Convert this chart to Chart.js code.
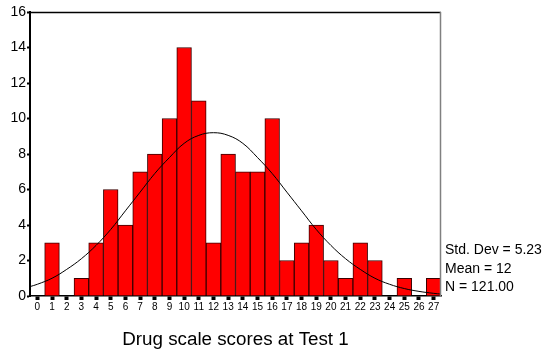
<!DOCTYPE html>
<html>
<head>
<meta charset="utf-8">
<script src="https://cdn.jsdelivr.net/npm/chart.js@4/dist/chart.umd.min.js"></script>
<style>
  html, body { margin: 0; padding: 0; background: #fff; }
  #wrap { position: relative; width: 544px; height: 353px; }
</style>
</head>
<body>
<div id="wrap"><canvas id="hist"></canvas></div>
<script>
// scores 0..27 and how many got each
const scores = [0,1,2,3,4,5,6,7,8,9,10,11,12,13,14,15,16,17,18,19,20,21,22,23,24,25,26,27];
const counts = [0,3,0,1,3,6,4,7,8,10,14,11,3,8,7,7,10,2,3,4,2,1,3,2,0,1,0,1];

// fitted normal curve
const curveX = [-0.5,0,1,2,3,4,5,6,7,8,9,10,11,12,13,14,15,16,17,18,19,20,21,22,23,24,25,26,27,27.5];
const curveY = [0.53,0.66,1.0,1.5,2.1,2.85,3.75,4.8,5.85,6.9,7.8,8.6,9.05,9.2,9.05,8.6,7.8,6.9,5.85,4.8,3.75,2.85,2.1,1.5,1.0,0.66,0.42,0.26,0.15,0.11];

const yTicks = [0,2,4,6,8,10,12,14,16];
const stats = ['Std. Dev = 5.23', 'Mean = 12', 'N = 121.00'];
const xTitle = 'Drug scale scores at Test 1';

const FONT = '"Liberation Sans", Arial, sans-serif';
const NARROW = '"Liberation Sans Narrow", "Liberation Sans", Arial, sans-serif';

// top + right frame lines and the stats block
const framePlugin = {
  id: 'frame',
  afterDraw(chart) {
    const { ctx, chartArea: a } = chart;
    ctx.save();
    ctx.strokeStyle = '#000';
    ctx.lineWidth = 1.5;
    ctx.beginPath();
    ctx.moveTo(a.left, a.top + 0.5);
    ctx.lineTo(a.right, a.top + 0.5);
    ctx.stroke();
    ctx.strokeStyle = '#808080';
    ctx.lineWidth = 1.5;
    ctx.beginPath();
    ctx.moveTo(a.right - 0.5, a.top);
    ctx.lineTo(a.right - 0.5, a.bottom);
    ctx.stroke();

    ctx.fillStyle = '#000';
    ctx.font = '14px ' + FONT;
    ctx.textBaseline = 'middle';
    ctx.textAlign = 'left';
    stats.forEach((s, i) => ctx.fillText(s, a.right + 4, 250.5 + i * 18.5));
    ctx.restore();
  }
};

new Chart(document.getElementById('hist'), {
  type: 'bar',
  data: {
    labels: scores,
    datasets: [
      {
        type: 'bar',
        data: counts,
        backgroundColor: '#ff0000',
        borderColor: '#3a0000',
        borderWidth: 1,
        barPercentage: 1,
        categoryPercentage: 1,
        grouped: false,
        xAxisID: 'x',
        order: 1
      },
      {
        type: 'line',
        data: curveX.map((x, i) => ({ x, y: curveY[i] })),
        borderColor: '#000',
        borderWidth: 1,
        pointRadius: 0,
        tension: 0.4,
        fill: false,
        xAxisID: 'x2',
        order: 0
      }
    ]
  },
  options: {
    responsive: true,
    maintainAspectRatio: false,
    animation: false,
    layout: { padding: { top: 12, right: 103, bottom: 0, left: 0 } },
    plugins: {
      legend: { display: false },
      tooltip: { enabled: false }
    },
    scales: {
      x: {
        type: 'category',
        offset: true,
        afterFit(s) { s.height = 57; },
        grid: {
          offset: false,
          drawOnChartArea: false,
          tickLength: 4,
          tickWidth: 4,
          tickColor: '#000'
        },
        border: { display: true, color: '#000', width: 1.5 },
        ticks: {
          color: '#000',
          font: { family: NARROW, size: 10 },
          padding: 1,
          maxRotation: 0,
          autoSkip: false
        },
        title: {
          display: true,
          text: xTitle,
          color: '#000',
          font: { family: FONT, size: 18.8 },
          padding: { top: 0, bottom: 2 }
        }
      },
      x2: {
        type: 'linear',
        display: false,
        offset: false,
        min: -0.5,
        max: 27.5
      },
      y: {
        min: 0,
        max: 16,
        afterFit(s) { s.width = 30; },
        afterBuildTicks(s) { s.ticks = yTicks.map(v => ({ value: v })); },
        grid: {
          drawOnChartArea: false,
          tickLength: 3,
          tickWidth: 2,
          tickColor: '#000'
        },
        border: { display: true, color: '#000', width: 2 },
        ticks: {
          color: '#000',
          font: { family: FONT, size: 14 },
          padding: 1
        }
      }
    }
  },
  plugins: [framePlugin]
});
</script>
</body>
</html>
